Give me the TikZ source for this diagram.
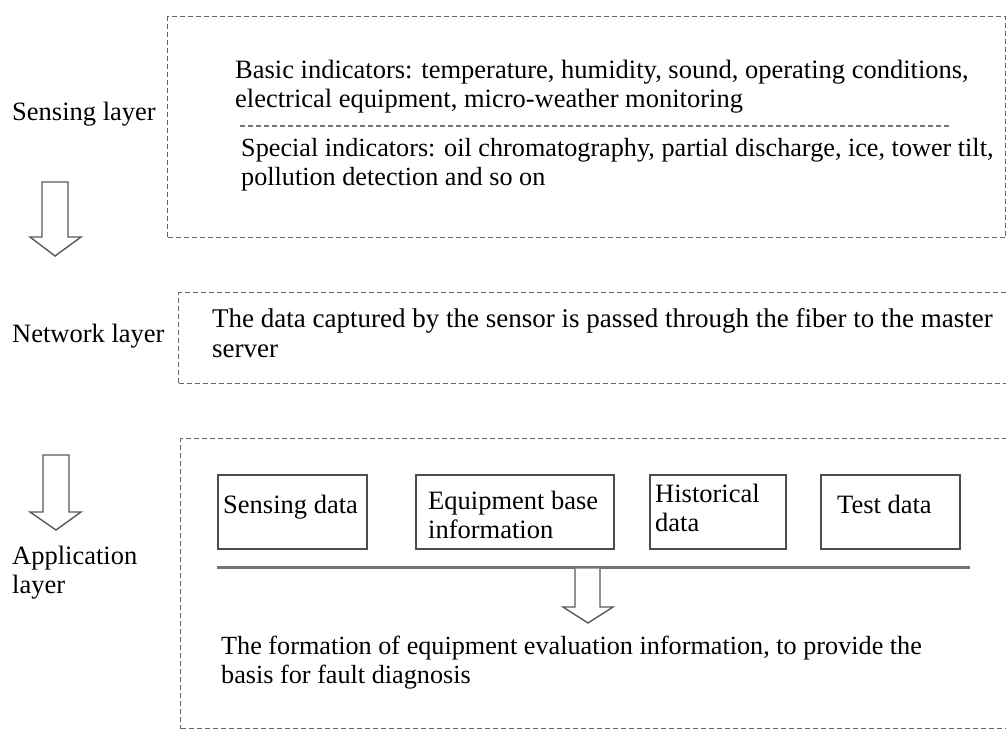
\documentclass[tikz,border=0pt]{standalone}
\usepackage{fontspec}
\setmainfont{Liberation Serif}
\begin{document}
\begin{tikzpicture}[x=1pt,y=-1pt,
  txt/.style={inner sep=0pt, font=\fontsize{26.5}{29}\selectfont, text=black, align=left, anchor=base west},
  layerbox/.style={draw=black!60, line width=1.4pt, dash pattern=on 5pt off 3pt, anchor=north west, inner sep=0pt},
  databox/.style={draw=black!70, line width=1.5pt, anchor=north west, inner sep=0pt, minimum height=74pt},
  blockarrow/.style={draw=black!65, line width=1.4pt, fill=white, line join=miter},
  sep/.style={draw=black!55, line width=1.2pt, dash pattern=on 5pt off 3pt},
  bar/.style={draw=black!55, line width=3pt}
]
\clip (0,0) rectangle (1006,729);
\fill[white] (0,0) rectangle (1006,729);

% layer frames
\node[layerbox, minimum width=838pt, minimum height=221pt] (sensbox) at (167,16) {};
\node[layerbox, minimum width=840pt, minimum height=91pt]  (netbox)  at (178,292) {};
\node[layerbox, minimum width=840pt, minimum height=290pt] (appbox)  at (180,438) {};

% layer names (anchor = baseline of the last line)
\node[txt] (senslbl) at (12,120) {Sensing layer};
\node[txt] (netlbl)  at (12,342) {Network layer};
\node[txt] (applbl)  at (12,593) {Application\\layer};

% sensing layer content
\node[txt] (basic) at (235,107) {Basic indicators: temperature, humidity, sound, operating conditions,\\electrical equipment, micro-weather monitoring};
\coordinate (sepL) at (240,126);
\coordinate (sepR) at (952,126);
\draw[sep] (sepL) -- (sepR);
\node[txt, font=\fontsize{26.2}{29}\selectfont] (special) at (241,185) {Special indicators: oil chromatography, partial discharge, ice, tower tilt,\\pollution detection and so on};

% network layer content
\node[txt, font=\fontsize{27}{29.5}\selectfont] (nettxt) at (212,357) {The data captured by the sensor is passed through the fiber to the master\\server};

% application layer content
\node[databox, minimum width=149pt] (b1) at (217,474) {};
\node[databox, minimum width=198pt] (b2) at (415,474) {};
\node[databox, minimum width=136pt] (b3) at (649,474) {};
\node[databox, minimum width=139pt] (b4) at (820,474) {};
\node[txt] (t1) at (223,513) {Sensing data};
\node[txt] (t2) at (428,538) {Equipment base\\information};
\node[txt] (t3) at (655,531) {Historical\\data};
\node[txt] (t4) at (837,513) {Test data};

\coordinate (barL) at (217,567);
\coordinate (barR) at (970,567);
\draw[bar] (barL) -- (barR);

\node[txt, font=\fontsize{26.2}{28.5}\selectfont] (result) at (221,683) {The formation of equipment evaluation information, to provide the\\basis for fault diagnosis};

% hollow block arrows
\draw[blockarrow] (42,182) -- (68,182) -- (68,237) -- (81,237) -- (55,256) -- (30,237) -- (42,237) -- cycle;
\draw[blockarrow] (43,455) -- (69,455) -- (69,512) -- (81,512) -- (56,530) -- (30,512) -- (43,512) -- cycle;
\draw[blockarrow] (575,568.5) -- (575,607) -- (563,607) -- (588,623) -- (613,607) -- (600,607) -- (600,568.5);
\end{tikzpicture}
\end{document}
